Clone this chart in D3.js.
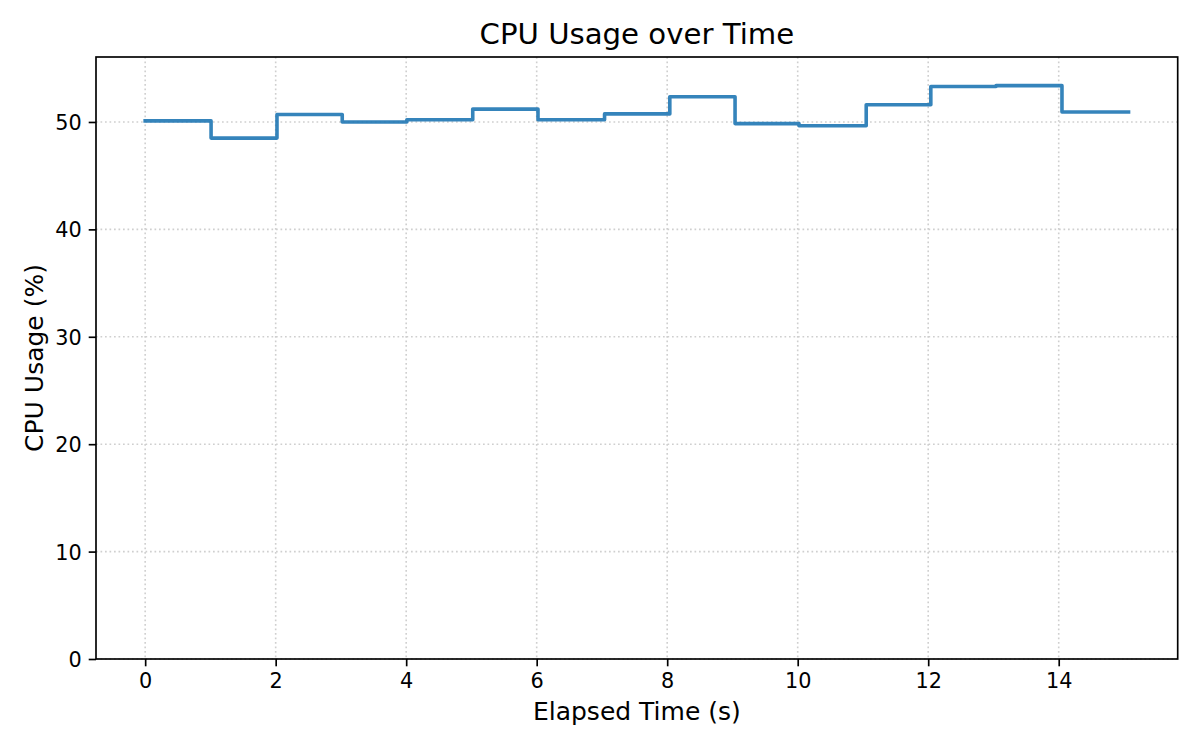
<!DOCTYPE html>
<html>
<head>
<meta charset="utf-8">
<script src="https://cdn.jsdelivr.net/npm/d3@7/dist/d3.min.js"></script>
<style>
  body { margin: 0; background: #fff; }
  svg { display: block; font-family: "DejaVu Sans", sans-serif; }
</style>
</head>
<body>
<div id="chart"></div>
<script>
/* chart data */
var sampleTimes = [0, 1.01, 2.02, 3.02, 4.01, 5.02, 6.02, 7.04, 8.04, 9.04, 10.02, 11.05, 12.04, 13.04, 14.05, 15.07];
var cpuUsage = [50.1, 48.5, 50.7, 50.0, 50.2, 51.2, 50.2, 50.75, 52.35, 49.85, 49.65, 51.6, 53.3, 53.38, 50.93];
var xTicks = [0, 2, 4, 6, 8, 10, 12, 14];
var yTicks = [0, 10, 20, 30, 40, 50];

var width = 1200, height = 750;
var margin = {top: 57, right: 22.3, bottom: 91, left: 96};
var plotW = width - margin.left - margin.right;
var plotH = height - margin.top - margin.bottom;

var svg = d3.select('#chart')
    .append('svg')
    .attr('width', width)
    .attr('height', height);

// matplotlib style 5% padding on x, y from zero
var tMin = d3.min(sampleTimes), tMax = d3.max(sampleTimes);
var pad = (tMax - tMin) * 0.05;
var x = d3.scaleLinear()
    .domain([tMin - pad, tMax + pad])
    .range([margin.left, margin.left + plotW]);
var y = d3.scaleLinear()
    .domain([0, d3.max(cpuUsage) * 1.05])
    .range([margin.top + plotH, margin.top]);

/* grid */
var grid = svg.append('g')
    .attr('stroke', '#cfcfcf')
    .attr('stroke-width', 1.6)
    .attr('stroke-dasharray', '1.7,2.8');
grid.selectAll('line.gx')
    .data(xTicks)
    .enter()
    .append('line')
    .attr('class', 'gx')
    .attr('x1', function(d){ return x(d); })
    .attr('x2', function(d){ return x(d); })
    .attr('y1', margin.top)
    .attr('y2', margin.top + plotH);
grid.selectAll('line.gy')
    .data(yTicks)
    .enter()
    .append('line')
    .attr('class', 'gy')
    .attr('x1', margin.left)
    .attr('x2', margin.left + plotW)
    .attr('y1', function(d){ return y(d); })
    .attr('y2', function(d){ return y(d); });

/* step line: each value holds until the next sample */
var points = cpuUsage.map(function(v, i){ return [sampleTimes[i], v]; });
points.push([sampleTimes[sampleTimes.length - 1], cpuUsage[cpuUsage.length - 1]]);

var line = d3.line()
    .x(function(d){ return x(d[0]); })
    .y(function(d){ return y(d[1]); })
    .curve(d3.curveStepAfter);

svg.append('path')
    .datum(points)
    .attr('d', line)
    .attr('fill', 'none')
    .attr('stroke', '#1f77b4')
    .attr('stroke-opacity', 0.9)
    .attr('stroke-width', 3.6)
    .attr('stroke-linejoin', 'round')
    .attr('stroke-linecap', 'square');

/* axes */
var xAxis = d3.axisBottom(x)
    .tickValues(xTicks)
    .tickSizeInner(7.3)
    .tickSizeOuter(0)
    .tickPadding(7);
var yAxis = d3.axisLeft(y)
    .tickValues(yTicks)
    .tickSizeInner(7.3)
    .tickSizeOuter(0)
    .tickPadding(7);

var gx = svg.append('g')
    .attr('transform', 'translate(0,' + (margin.top + plotH) + ')')
    .call(xAxis);
var gy = svg.append('g')
    .attr('transform', 'translate(' + margin.left + ',0)')
    .call(yAxis);

[gx, gy].forEach(function(g){
    g.select('.domain').remove();
    g.selectAll('.tick line').attr('stroke', '#000').attr('stroke-width', 1.67);
    g.selectAll('.tick text')
        .attr('fill', '#000')
        .style('font-family', '"DejaVu Sans", sans-serif')
        .style('font-size', '20.8px');
});
gy.selectAll('.tick text').attr('dy', '0.36em');

// frame (all four spines)
svg.append('rect')
    .attr('x', margin.left)
    .attr('y', margin.top)
    .attr('width', plotW)
    .attr('height', plotH)
    .attr('fill', 'none')
    .attr('stroke', '#000')
    .attr('stroke-width', 1.67);

/* titles */
svg.append('text')
    .attr('x', margin.left + plotW / 2)
    .attr('y', 44)
    .attr('text-anchor', 'middle')
    .style('font-size', '29.2px')
    .text('CPU Usage over Time');

svg.append('text')
    .attr('x', margin.left + plotW / 2)
    .attr('y', 720)
    .attr('text-anchor', 'middle')
    .style('font-size', '25px')
    .text('Elapsed Time (s)');

svg.append('text')
    .attr('transform', 'translate(43,' + (margin.top + plotH / 2) + ') rotate(-90)')
    .attr('text-anchor', 'middle')
    .style('font-size', '25px')
    .text('CPU Usage (%)');
</script>
</body>
</html>
